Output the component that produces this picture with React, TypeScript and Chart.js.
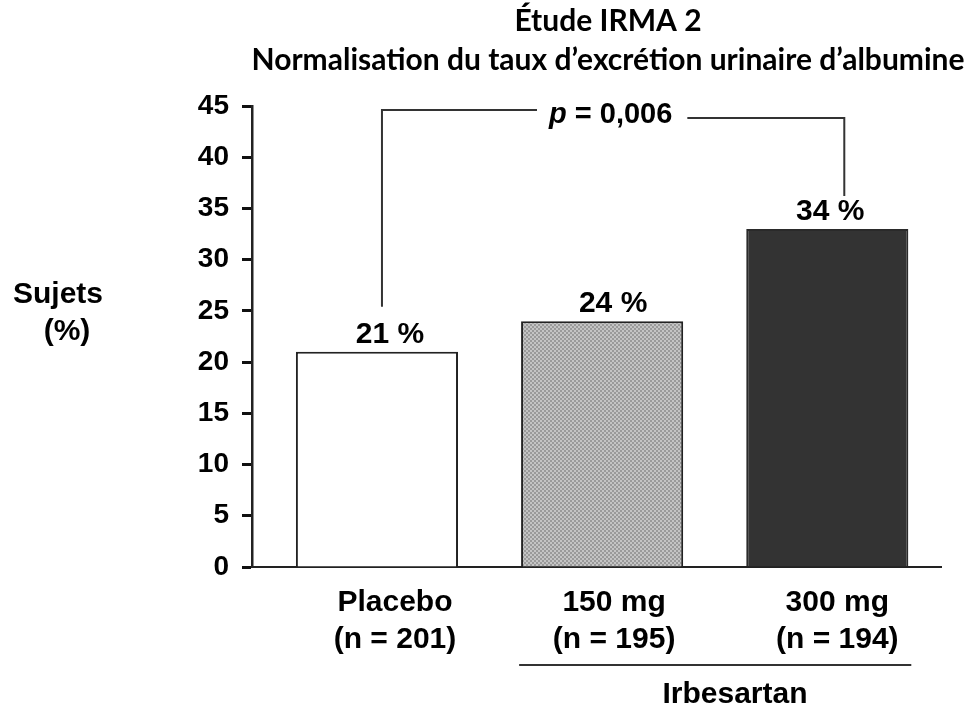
import React, { useEffect, useRef } from 'react';
import { Chart, registerables } from 'chart.js';

Chart.register(...registerables);

const titleLines = ['Étude IRMA 2', 'Normalisation du taux d’excrétion urinaire d’albumine'];
const yTitleLines = ['Sujets', '(%)'];
const categories = ['Placebo', '150 mg', '300 mg'];
const groupSizes = ['(n = 201)', '(n = 195)', '(n = 194)'];
const values = [21, 24, 33];
const valueLabels = ['21 %', '24 %', '34 %'];
const yMin = 0;
const yMax = 45;
const yStep = 5;
const pItalic = 'p';
const pRest = ' = 0,006';
const groupLabel = 'Irbesartan';

const SANS = '"Liberation Sans", Arial, Helvetica, sans-serif';
const valueNudge = [13, 11, 3];
const catNudge = [18, 12, 10];

function makePattern(): CanvasPattern | string {
  const c = document.createElement('canvas');
  c.width = 4;
  c.height = 4;
  const g = c.getContext('2d');
  if (!g) return '#a8a8a8';
  g.fillStyle = '#9a9a9a';
  g.fillRect(0, 0, 4, 4);
  g.fillStyle = '#c4c4c4';
  g.fillRect(0, 0, 2, 2);
  g.fillRect(2, 2, 2, 2);
  const p = g.createPattern(c, 'repeat');
  return p || '#a8a8a8';
}

const overlay = {
  id: 'overlay',
  afterDraw(chart: any) {
    const { ctx } = chart;
    const x = chart.scales.x;
    const y = chart.scales.y;
    ctx.save();
    ctx.fillStyle = '#000';
    ctx.textBaseline = 'alphabetic';

    // Title
    ctx.textAlign = 'center';
    ctx.font = `700 30px Lato, "Open Sans", sans-serif`;
    ctx.fillText(titleLines[0], 608, 31);
    ctx.fillText(titleLines[1], 608, 70);

    // Y title
    ctx.font = `700 30px ${SANS}`;
    ctx.fillText(yTitleLines[0], 58, 303);
    ctx.fillText(yTitleLines[1], 67, 340);

    // value labels
    ctx.font = `700 30px ${SANS}`;
    values.forEach((v, i) => {
      const cx = x.getPixelForValue(i) + valueNudge[i];
      ctx.fillText(valueLabels[i], cx, y.getPixelForValue(v) - 9);
    });

    // category labels
    ctx.font = `700 30px ${SANS}`;
    categories.forEach((c, i) => {
      const cx = x.getPixelForValue(i) + catNudge[i];
      ctx.fillText(c, cx, 611);
      ctx.fillText(groupSizes[i], cx, 648);
    });

    // bracket + p value
    ctx.strokeStyle = '#333';
    ctx.lineWidth = 2;
    const lx = x.getPixelForValue(0) + 5;
    const rx = x.getPixelForValue(2) + 17;
    const topL = 110;
    const topR = 118;
    const pStart = 549;
    ctx.font = `italic 700 29px ${SANS}`;
    const wp = ctx.measureText(pItalic).width;
    ctx.font = `700 29px ${SANS}`;
    const wr = ctx.measureText(pRest).width;
    const pEnd = pStart + wp + wr;
    ctx.beginPath();
    ctx.moveTo(lx, y.getPixelForValue(values[0]) - 45);
    ctx.lineTo(lx, topL);
    ctx.lineTo(pStart - 12, topL);
    ctx.moveTo(pEnd + 15, topR);
    ctx.lineTo(rx, topR);
    ctx.lineTo(rx, y.getPixelForValue(values[2]) - 33);
    ctx.stroke();
    ctx.textAlign = 'left';
    ctx.font = `italic 700 29px ${SANS}`;
    ctx.fillText(pItalic, pStart, 123);
    ctx.font = `700 29px ${SANS}`;
    ctx.fillText(pRest, pStart + wp, 123);

    // Irbesartan group
    const gl = x.getPixelForValue(1) - 83;
    const gr = x.getPixelForValue(2) + 84;
    ctx.beginPath();
    ctx.moveTo(gl, 665);
    ctx.lineTo(gr, 665);
    ctx.stroke();
    ctx.textAlign = 'center';
    ctx.font = `700 30px ${SANS}`;
    ctx.fillText(groupLabel, 735, 703);

    ctx.restore();
  },
};

export default function App() {
  const ref = useRef<HTMLCanvasElement | null>(null);
  useEffect(() => {
    if (!ref.current) return;
    const pattern = makePattern();
    const chart = new Chart(ref.current, {
      type: 'bar',
      data: {
        datasets: [
          {
            data: values.map((v, i) => ({ x: i, y: v })),
            backgroundColor: ['#ffffff', pattern as any, '#333333'],
            borderColor: ['#222222', '#222222', '#2a2a2a'],
            borderWidth: 2,
            categoryPercentage: 1,
            barPercentage: 0.72,
          },
        ],
      },
      options: {
        responsive: false,
        animation: false,
        devicePixelRatio: 1,
        layout: { padding: { left: 0, top: 106, right: 31, bottom: 0 } },
        plugins: { legend: { display: false }, tooltip: { enabled: false }, title: { display: false } },
        scales: {
          x: {
            type: 'linear',
            offset: false,
            min: -0.555,
            max: 2.505,
            grid: { display: false, drawTicks: false },
            ticks: { display: false },
            border: { display: true, color: '#222', width: 2 },
            afterBuildTicks: (s: any) => {
              s.ticks = categories.map((_, i) => ({ value: i }));
            },
            afterFit: (s: any) => {
              s.height = 142;
            },
          },
          y: {
            min: yMin,
            max: yMax,
            ticks: {
              stepSize: yStep,
              color: '#000',
              padding: 13,
              font: { family: SANS, size: 28, weight: 'bold' },
            },
            grid: { drawOnChartArea: false, drawTicks: true, tickLength: 10, tickWidth: 3, tickColor: '#111' },
            border: { display: true, color: '#222', width: 2.5 },
            afterFit: (s: any) => {
              s.width = 252;
            },
          },
        },
      },
      plugins: [overlay],
    });
    return () => chart.destroy();
  }, []);
  return (
    <div style={{ position: 'absolute', left: 0, top: 0, width: 972, height: 709, background: '#fff' }}>
      <canvas ref={ref} width={972} height={709} />
    </div>
  );
}
